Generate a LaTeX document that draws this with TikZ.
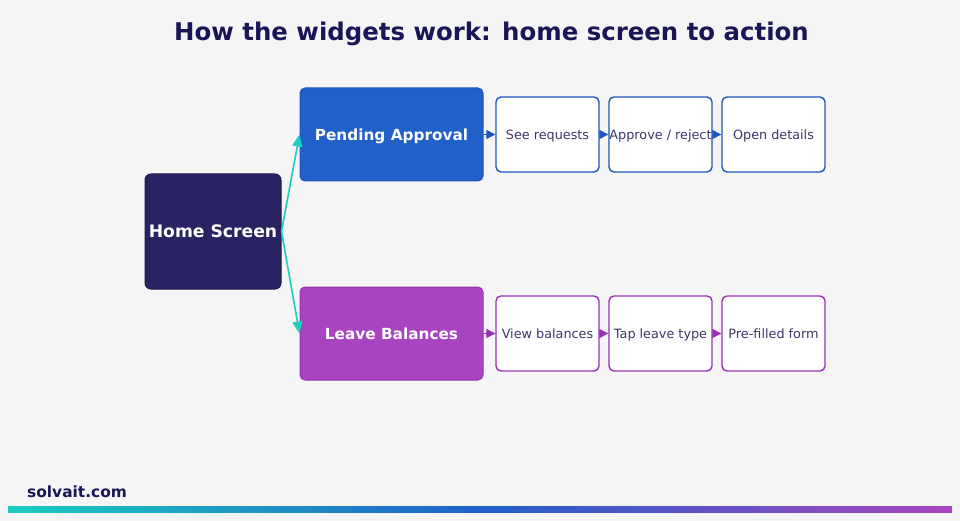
\documentclass[tikz,border=0pt]{standalone}
\usepackage{fontspec}
\setmainfont{DejaVu Sans}
\usetikzlibrary{arrows.meta,positioning}
\definecolor{bg}{HTML}{F5F5F5}
\definecolor{navy}{HTML}{2A2362}
\definecolor{navyb}{HTML}{1C1858}
\definecolor{titlec}{HTML}{1A1556}
\definecolor{blue1}{HTML}{2060C8}
\definecolor{blueb}{HTML}{1C56BE}
\definecolor{purp}{HTML}{A844C0}
\definecolor{purpb}{HTML}{9A30B6}
\definecolor{teal}{HTML}{1CCDC0}
\definecolor{stepc}{HTML}{3A3866}
\tikzset{
  mainbox/.style={text height=11.2pt, text depth=0pt, rounded corners=5pt, minimum width=183pt, minimum height=93pt, text=white, font=\bfseries\fontsize{15.3}{18}\selectfont, line width=1pt, inner sep=0pt},
  homebox/.style={text height=12.6pt, text depth=0pt, rounded corners=6pt, minimum width=136pt, minimum height=115pt, fill=navy, draw=navyb, text=white, font=\bfseries\fontsize{17.2}{20}\selectfont, line width=1pt, inner sep=0pt},
  stepbox/.style={text height=9.3pt, text depth=0pt, rounded corners=5pt, minimum width=103pt, minimum height=75pt, fill=white, line width=1.4pt, text=stepc, font=\fontsize{12.8}{15}\selectfont, inner sep=0pt},
  tealarrow/.style={draw=teal, line width=1.6pt, -{Triangle[length=12pt,width=10pt]}},
  blueflow/.style={draw=blueb, line width=1.2pt, -{Triangle[length=9pt,width=9pt]}},
  purpflow/.style={draw=purpb, line width=1.2pt, -{Triangle[length=9pt,width=9pt]}},
}
\begin{document}
\begin{tikzpicture}[x=1pt,y=-1pt]
\fill[bg] (0,0) rectangle (960,521);
\useasboundingbox (0,0) rectangle (960,521);
\node[text height=17.8pt, text depth=0pt, inner sep=0pt, text=titlec, font=\bfseries\fontsize{24.4}{28}\selectfont] (title) at (491.5,32) {How the widgets work: home screen to action};

\node[homebox] (home) at (213,231.5) {Home Screen};
\node[mainbox, fill=blue1, draw=blueb] (pa) at (391.5,134.5) {Pending Approval};
\node[mainbox, fill=purp, draw=purpb] (lb) at (391.5,333.5) {Leave Balances};

\node[stepbox, draw=blueb] (s1) at (547.5,134.5) {See requests};
\node[stepbox, draw=blueb] (s2) at (660.5,134.5) {Approve / reject};
\node[stepbox, draw=blueb] (s3) at (773.5,134.5) {Open details};

\node[stepbox, draw=purpb] (t1) at (547.5,333.5) {View balances};
\node[stepbox, draw=purpb] (t2) at (660.5,333.5) {Tap leave type};
\node[stepbox, draw=purpb] (t3) at (773.5,333.5) {Pre-filled form};

\draw[tealarrow] (home.east) -- (pa.west);
\draw[tealarrow] (home.east) -- (lb.west);

\draw[blueflow] (pa.east) -- (s1.west);
\draw[blueflow] (s1.east) -- (s2.west);
\draw[blueflow] (s2.east) -- (s3.west);
\draw[purpflow] (lb.east) -- (t1.west);
\draw[purpflow] (t1.east) -- (t2.west);
\draw[purpflow] (t2.east) -- (t3.west);

\node[text height=11.2pt, text depth=0pt, anchor=west, inner sep=0pt, text=titlec, font=\bfseries\fontsize{15.4}{18}\selectfont] (foot) at (27,492) {solvait.com};
\shade[left color=teal, right color=purp, middle color=blue1] (8,506) rectangle (952,512);
\end{tikzpicture}
\end{document}
